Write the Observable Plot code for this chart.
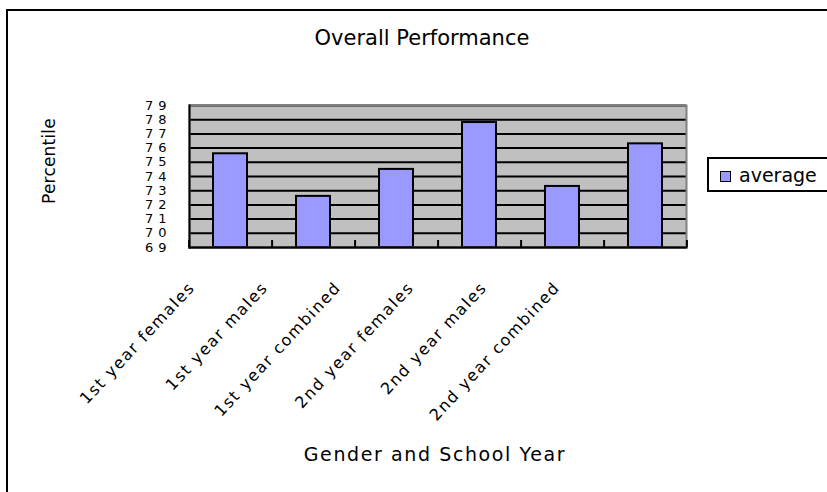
<!DOCTYPE html>
<html>
<head>
<meta charset="utf-8">
<script src="https://cdn.jsdelivr.net/npm/d3@7"></script>
<script src="https://cdn.jsdelivr.net/npm/@observablehq/plot@0.6"></script>
<style>
  html, body { margin: 0; padding: 0; background: #fff; }
  #wrap { position: relative; width: 827px; height: 492px; overflow: hidden; font-family: "DejaVu Sans", sans-serif; color: #000; }
  #wrap svg { position: absolute; left: 0; top: 0; }
  #border { position: absolute; left: 6px; top: 9px; width: 840px; height: 500px; border-top: 2px solid #000; border-left: 2px solid #000; box-sizing: border-box; }
  #title { position: absolute; left: 0; width: 844px; top: 26px; text-align: center; font-size: 21px; }
  #ytitle { position: absolute; left: 49px; top: 161px; transform: translate(-50%, -50%) rotate(-90deg); font-size: 17px; letter-spacing: 0.2px; white-space: nowrap; }
  #xtitle { position: absolute; left: 0; width: 870px; top: 443px; text-align: center; font-size: 19px; letter-spacing: 1.6px; }
  #legend { position: absolute; left: 707px; top: 157px; width: 140px; height: 35px; border: 2px solid #000; box-sizing: border-box; }
  #legend .sw { position: absolute; left: 11px; top: 12px; width: 11px; height: 11px; background: #9999ff; border: 1px solid #000; box-sizing: border-box; }
  #legend .lb { position: absolute; left: 30px; top: 5px; font-size: 19px; }
</style>
</head>
<body>
<div id="wrap">
  <div id="border"></div>
  <div id="title">Overall Performance</div>
  <div id="ytitle">Percentile</div>
  <div id="xtitle">Gender and School Year</div>
  <div id="legend"><div class="sw"></div><div class="lb">average</div></div>
</div>
<script>
const categories = ["1st year females", "1st year males", "1st year combined", "2nd year females", "2nd year males", "2nd year combined"];
const averages = [75.6, 72.6, 74.5, 77.8, 73.3, 76.3];
const yTicks = [69, 70, 71, 72, 73, 74, 75, 76, 77, 78, 79];

const data = categories.map((c, i) => ({category: c, value: averages[i]}));
const yMin = yTicks[0], yMax = yTicks[yTicks.length - 1];

const W = 827, H = 492, mL = 189, mR = 141, mT = 105, mB = 245;
const step = (W - mL - mR) / categories.length;
const frameH = H - mT - mB;

const labelMarks = categories.map((c, i) => Plot.text([c], {
  x: d => d,
  frameAnchor: "bottom",
  dx: -43 - 10 * i,
  dy: 33,
  rotate: -47,
  textAnchor: "end",
  lineAnchor: "top",
  fontSize: 16,
  fill: "black"
}));

const chart = Plot.plot({
  width: W, height: H,
  marginLeft: mL, marginRight: mR, marginTop: mT, marginBottom: mB,
  x: {domain: categories, paddingInner: 0.59, paddingOuter: 0.27, axis: null},
  y: {domain: [yMin, yMax], axis: null},
  style: {fontFamily: "DejaVu Sans", background: "transparent", overflow: "visible"},
  marks: [
    Plot.frame({fill: "#c0c0c0"}),
    Plot.gridY(yTicks, {stroke: "black", strokeOpacity: 1, strokeWidth: 2}),
    Plot.barY(data, {x: "category", y1: () => yMin, y2: "value", fill: "#9999ff", stroke: "black", strokeWidth: 2}),
    Plot.frame({stroke: "#808080", strokeWidth: 2}),
    Plot.frame({anchor: "left", stroke: "black", strokeWidth: 2}),
    Plot.frame({anchor: "bottom", stroke: "black", strokeWidth: 2}),
    Plot.tickX(categories, {x: d => d, dx: -step / 2, insetTop: frameH - 7, stroke: "black", strokeWidth: 2}),
    Plot.tickX(categories.slice(-1), {x: d => d, dx: step / 2, insetTop: frameH - 7, stroke: "black", strokeWidth: 2}),
    Plot.axisY(yTicks, {tickSize: 0, tickPadding: 18, fontSize: 13, label: null, fill: "black"}),
    ...labelMarks
  ]
});
d3.select(chart).selectAll('g[aria-label="text"] text').attr("letter-spacing", "1.6px");
d3.select(chart).selectAll('g[aria-label="y-axis tick label"] text').attr("letter-spacing", "5px");
document.getElementById("wrap").prepend(chart);
</script>
</body>
</html>
